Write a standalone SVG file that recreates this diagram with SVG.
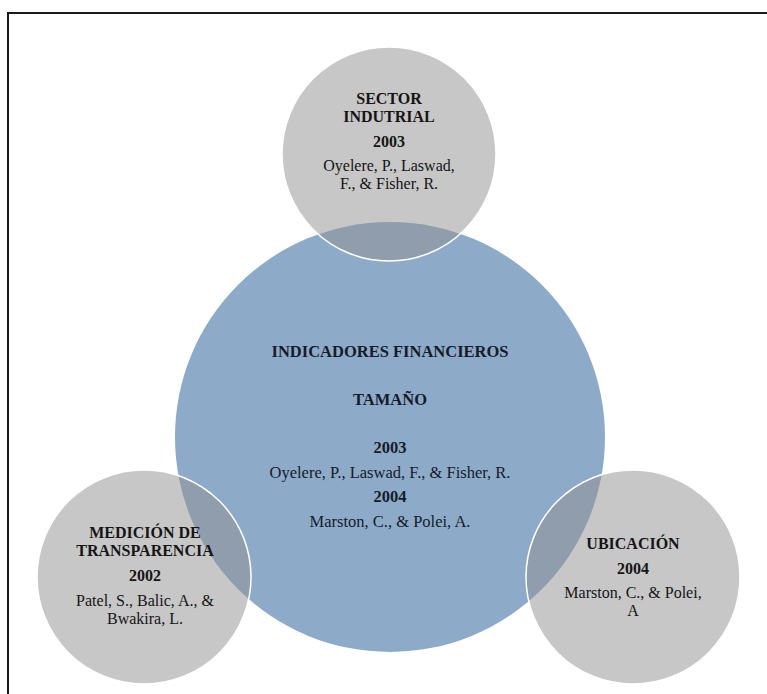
<svg xmlns="http://www.w3.org/2000/svg" width="767" height="694" viewBox="0 0 767 694">
  <style>
    .hub { fill: #8eaac9; }
    .sat { fill: #8f8f8f; fill-opacity: 0.5; stroke: #ffffff; stroke-width: 1.5; }
    text { font-family: "Liberation Serif", "Times New Roman", serif; font-size: 16px; fill: #151515; text-anchor: middle; }
    .b { font-weight: bold; }
    .hubtxt { fill: #141c28; font-size: 16.5px; }
  </style>
  <rect x="0" y="0" width="767" height="694" fill="#ffffff"/>
  <!-- page frame, cut off at the right and bottom -->
  <path d="M8 694 V13 H767" fill="none" stroke="#1a1a1a" stroke-width="2"/>

  <g id="connectors"></g>

  <!-- central circle -->
  <g id="indicadores">
    <circle class="hub" cx="390" cy="437" r="215"/>
  </g>

  <!-- satellite circles, drawn translucent over the hub -->
  <g id="sector">
    <circle class="sat" cx="389" cy="154" r="107"/>
  </g>
  <g id="medicion">
    <circle class="sat" cx="144" cy="577" r="107"/>
  </g>
  <g id="ubicacion">
    <circle class="sat" cx="633" cy="577" r="107"/>
  </g>

  <!-- labels -->
  <g id="indicadores-text">
    <text class="b hubtxt" x="390" y="357">INDICADORES FINANCIEROS</text>
    <text class="b hubtxt" x="390" y="405">TAMAÑO</text>
    <text class="b hubtxt" x="390" y="453">2003</text>
    <text class="hubtxt" x="390" y="478">Oyelere, P., Laswad, F., &amp; Fisher, R.</text>
    <text class="b hubtxt" x="390" y="502">2004</text>
    <text class="hubtxt" x="390" y="527">Marston, C., &amp; Polei, A.</text>
  </g>
  <g id="sector-text">
    <text class="b" x="389" y="104">SECTOR</text>
    <text class="b" x="389" y="122">INDUTRIAL</text>
    <text class="b" x="389" y="147">2003</text>
    <text x="389" y="171">Oyelere, P., Laswad,</text>
    <text x="389" y="189">F., &amp; Fisher, R.</text>
  </g>
  <g id="medicion-text">
    <text class="b" x="145" y="538">MEDICIÓN DE</text>
    <text class="b" x="145" y="556">TRANSPARENCIA</text>
    <text class="b" x="145" y="581">2002</text>
    <text x="145" y="606">Patel, S., Balic, A., &amp;</text>
    <text x="145" y="624">Bwakira, L.</text>
  </g>
  <g id="ubicacion-text">
    <text class="b" x="633" y="549">UBICACIÓN</text>
    <text class="b" x="633" y="574">2004</text>
    <text x="633" y="598">Marston, C., &amp; Polei,</text>
    <text x="633" y="616">A</text>
  </g>
</svg>
